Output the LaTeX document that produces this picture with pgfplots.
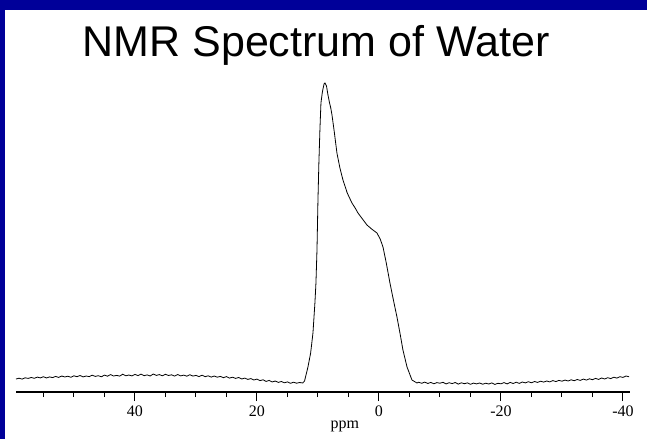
\documentclass[border=0pt]{standalone}
\usepackage{fontspec}
\setmainfont{Liberation Serif}
\newfontfamily\titlefont{Liberation Sans}
\usepackage{pgfplots}
\pgfplotsset{compat=1.18}
\definecolor{frameblue}{RGB}{0,0,153}
\begin{document}
\begin{tikzpicture}[x=1pt,y=1pt]
\fill[frameblue] (0,0) rectangle (647,439);
\fill[white] (5,0) rectangle (647,429);
\path[use as bounding box] (0,0) rectangle (647,439);
\node[anchor=base, inner sep=0pt] at (316,382) {\titlefont\fontsize{43}{50}\selectfont NMR Spectrum of Water};
\begin{axis}[
  at={(16pt,47pt)}, anchor=south west,
  scale only axis, width=614pt, height=309pt,
  x dir=reverse,
  xmin=-41.15, xmax=59.5, ymin=-9, ymax=300,
  axis x line*=bottom, hide y axis,
  axis line style={line width=1.6pt},
  xtick={-40,-20,0,20,40},
  xticklabels={-40,-20,0,20,40},
  minor xtick={-35,-30,-25,-15,-10,-5,5,10,15,25,30,35,45,50,55},
  tick align=outside,
  major tick length=9pt, minor tick length=5pt,
  tick style={line width=1pt, black},
  xticklabel style={font=\fontsize{16}{18}\selectfont, anchor=base, yshift=-15pt},
  clip=false,
]
\addplot[black, line width=0.8pt] coordinates {
(59.5,4.0) (59,4.8) (58.5,3.9) (58,5.2) (57.5,4.6) (57,5.5) (56.5,4.7) (56,5.9) (55.5,5.1) (55,6.3)
(54.5,5.0) (54,6.1) (53.5,5.4) (53,6.6) (52.5,5.6) (52,7.0) (51.5,6.0) (51,6.8) (50.5,5.7) (50,7.2)
(49.5,6.3) (49,7.5) (48.5,6.1) (48,7.0) (47.5,6.4) (47,7.8) (46.5,6.6) (46,7.3) (45.5,6.2) (45,7.9)
(44.5,6.8) (44,8.4) (43.5,7.0) (43,7.6) (42.5,6.9) (42,8.8) (41.5,7.2) (41,8.0) (40.5,7.1) (40,8.6)
(39.5,7.4) (39,8.9) (38.5,7.3) (38,8.1) (37.5,7.0) (37,9.0) (36.5,7.6) (36,8.4) (35.5,7.2) (35,8.7)
(34.5,7.5) (34,8.2) (33.5,6.9) (33,8.5) (32.5,7.1) (32,7.9) (31.5,6.8) (31,8.3) (30.5,6.9) (30,7.6)
(29.5,6.4) (29,7.8) (28.5,6.3) (28,7.2) (27.5,5.9) (27,7.0) (26.5,5.8) (26,6.6) (25.5,5.3) (25,6.4)
(24.5,4.9) (24,5.8) (23.5,4.6) (23,5.5) (22.5,4.0) (22,4.9) (21.5,3.6) (21,4.4) (20.5,3.0) (20,3.9)
(19.5,2.4) (19,3.2) (18.5,1.6) (18,2.6) (17.5,1.0) (17,2.0) (16.5,0.6) (16,1.5) (15.5,0.2) (15,1.1)
(14.5,-0.3) (14,0.8) (13.5,-0.2) (13,0.5) (12.5,0.0)
(12.2,2) (11.64,16) (11.2,30) (10.82,50) (10.5,80) (10.33,100) (10.16,133) (10.0,183) (9.85,220)
(9.67,255) (9.51,280) (9.3,290) (9.18,294) (9.0,299) (8.85,300) (8.6,297) (8.36,288) (8.1,280)
(7.9,275) (7.7,268) (7.3,250) (6.89,230) (6.4,215) (5.9,203) (5.2,190) (4.43,180) (3.9,175)
(3.44,170) (2.7,164) (1.97,158) (1.2,154) (0.33,150) (-0.2,144) (-0.66,136) (-1.2,120) (-1.8,100)
(-2.4,82) (-2.95,66) (-3.5,48) (-3.93,33) (-4.6,16) (-5.41,3) (-6.23,0)
(-6.5,0.8) (-7,-0.3) (-7.5,0.9) (-8,-0.5) (-8.5,0.6) (-9,-0.8) (-9.5,0.4) (-10,-0.2) (-10.5,0.7) (-11,-0.9)
(-11.5,0.3) (-12,-0.6) (-12.5,0.5) (-13,-1.1) (-13.5,0.2) (-14,-0.7) (-14.5,0.1) (-15,-1.3) (-15.5,-0.1) (-16,-0.9)
(-16.5,0.0) (-17,-1.2) (-17.5,-0.2) (-18,-1.0) (-18.5,0.1) (-19,-1.4) (-19.5,-0.3) (-20,-0.8) (-20.5,0.4) (-21,-0.9)
(-21.5,0.6) (-22,-0.5) (-22.5,0.8) (-23,-0.4) (-23.5,1.0) (-24,0.1) (-24.5,1.3) (-25,0.2) (-25.5,1.5) (-26,0.6)
(-26.5,1.8) (-27,0.9) (-27.5,2.0) (-28,1.1) (-28.5,2.4) (-29,1.4) (-29.5,2.6) (-30,1.8) (-30.5,2.9) (-31,2.0)
(-31.5,3.2) (-32,2.3) (-32.5,3.5) (-33,2.6) (-33.5,3.9) (-34,2.9) (-34.5,4.2) (-35,3.3) (-35.5,4.6) (-36,3.6)
(-36.5,5.0) (-37,4.0) (-37.5,5.3) (-38,4.4) (-38.5,5.8) (-39,4.9) (-39.5,6.3) (-40,5.6) (-40.5,7.0) (-41,6.2)
};
\node[anchor=base, font=\fontsize{16}{18}\selectfont] at (axis cs:5.6,-9) [yshift=-36pt] {ppm};
\end{axis}
\end{tikzpicture}
\end{document}
